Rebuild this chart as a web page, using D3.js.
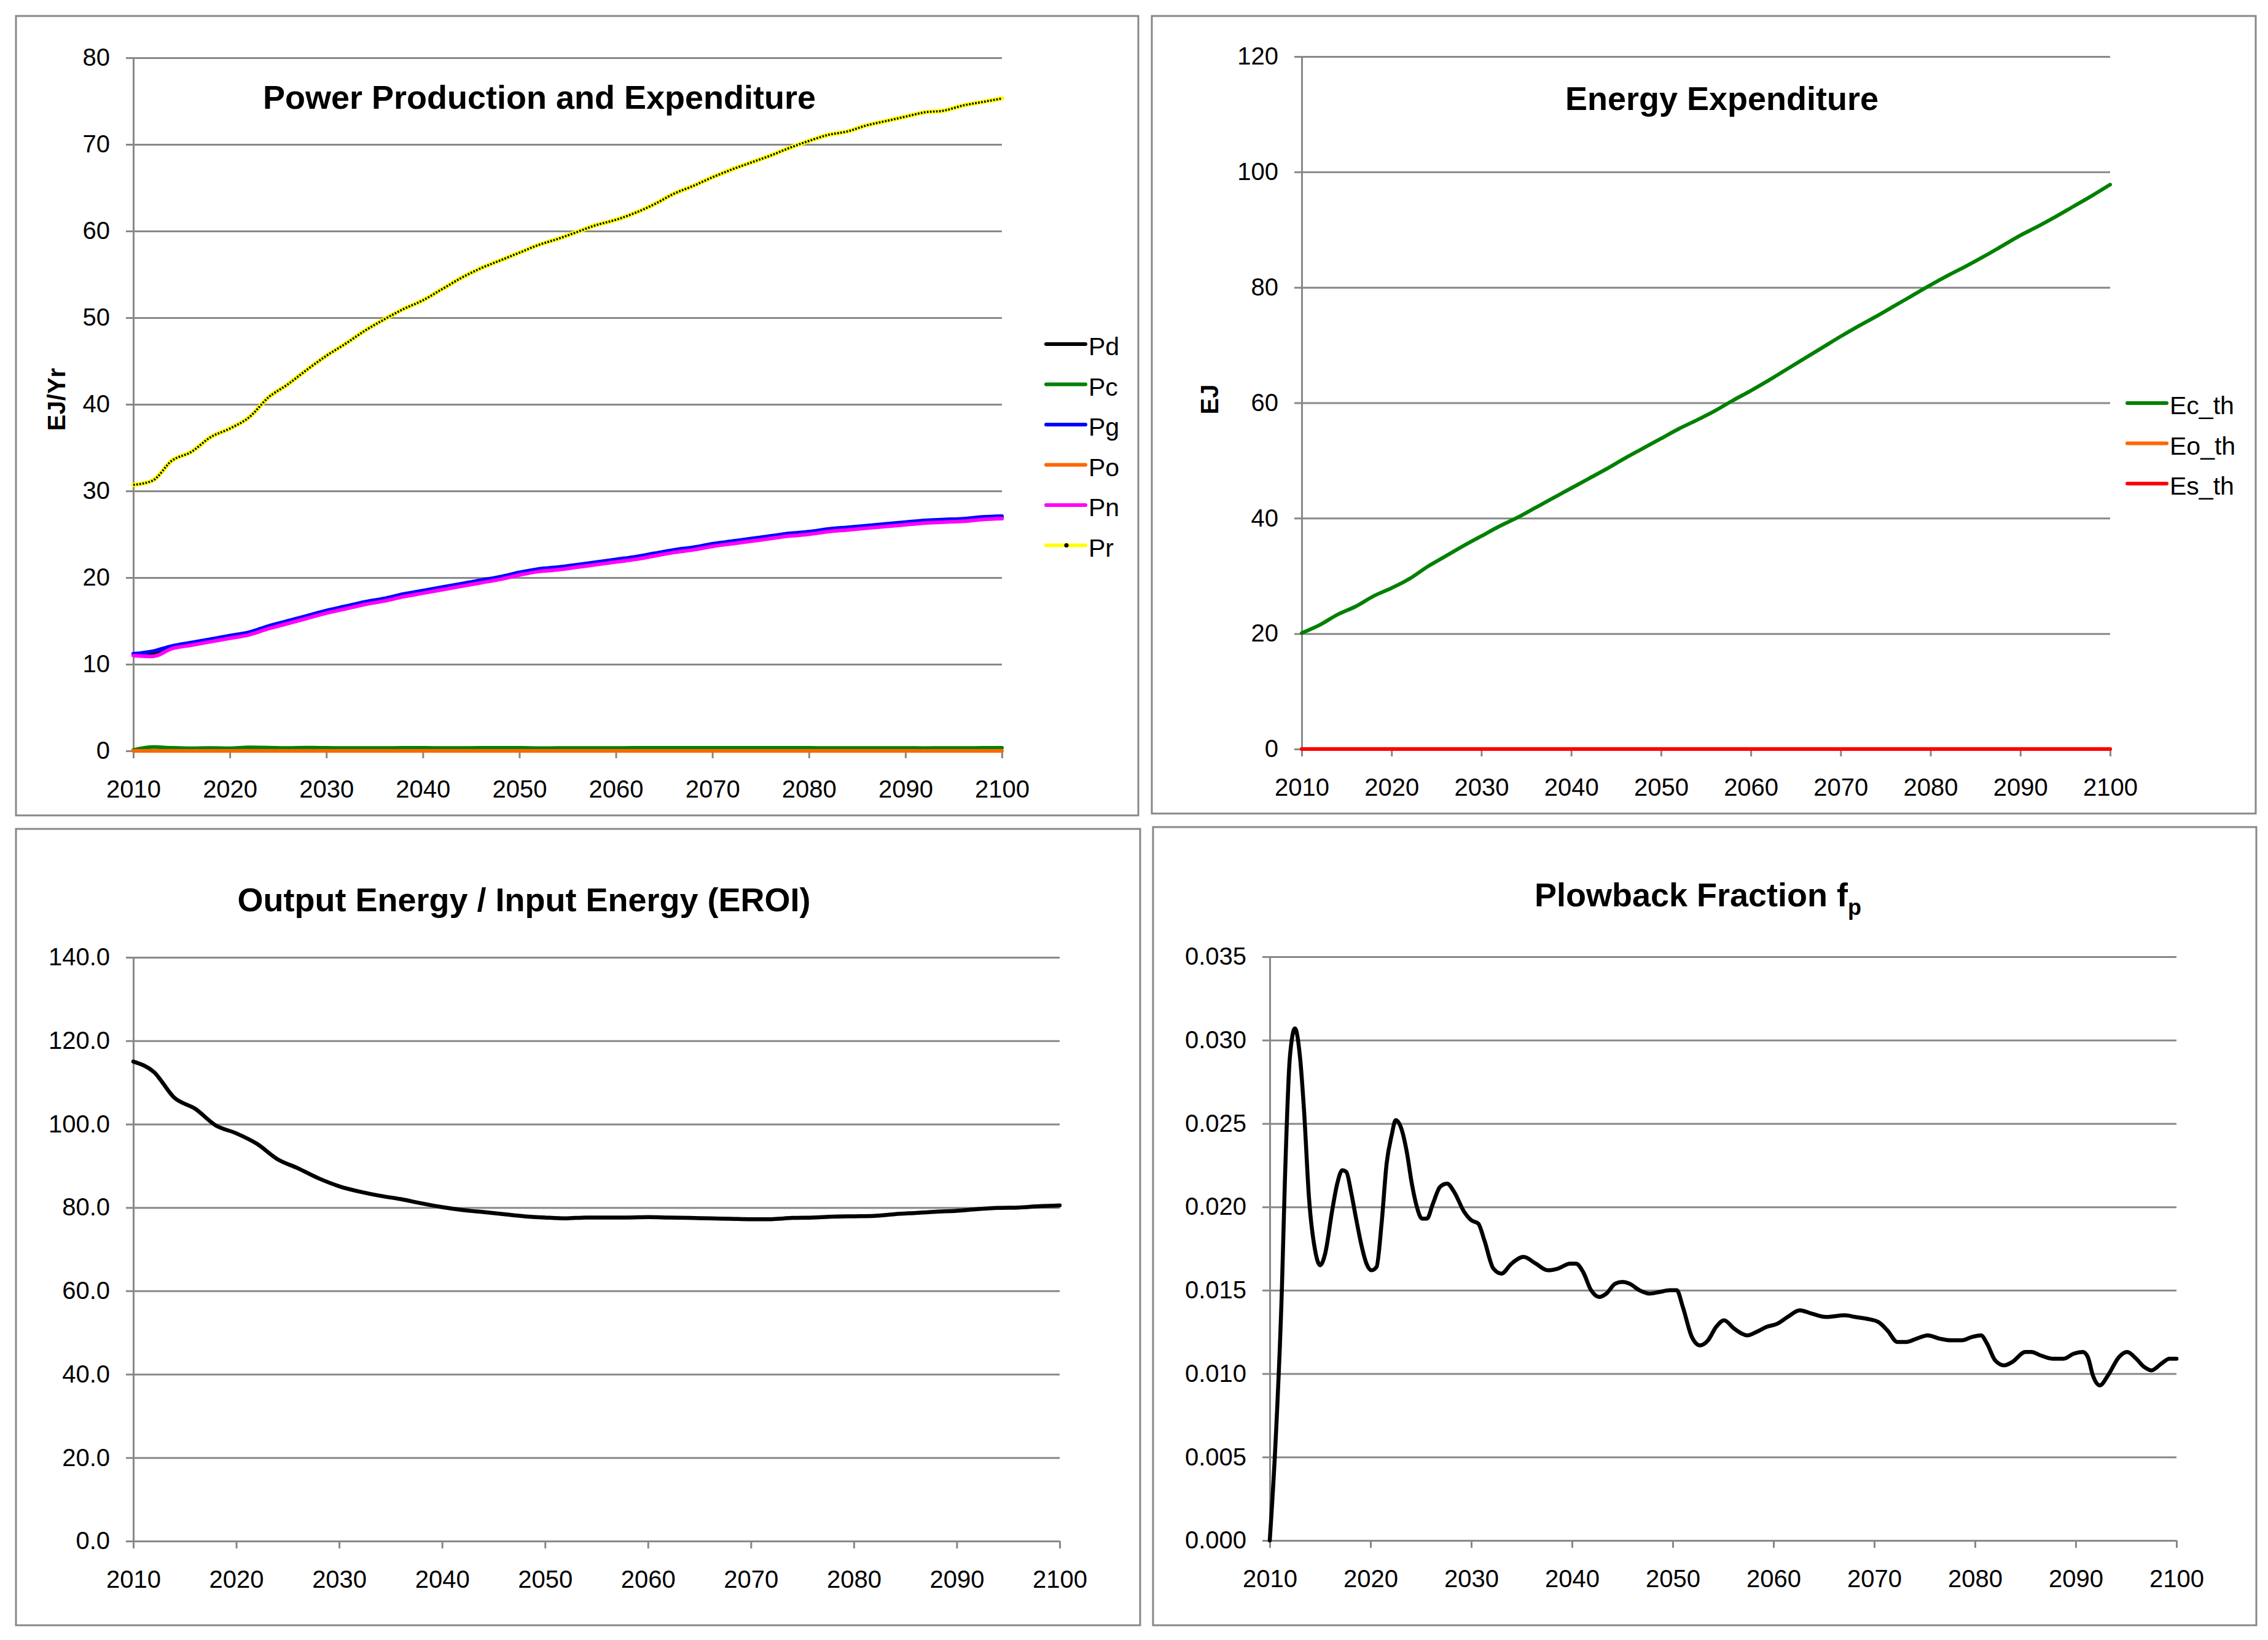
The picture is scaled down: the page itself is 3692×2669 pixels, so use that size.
<!DOCTYPE html>
<html>
<head>
<meta charset="utf-8">
<script src="https://cdn.jsdelivr.net/npm/d3@7"></script>
<style>
  body { margin: 0; background: #fff; }
  text { font-family: "Liberation Sans", Arial, sans-serif; }
</style>
</head>
<body>
<div id="chart"></div>
<script>
/* --- data --- */
const years = [2010,2012,2014,2016,2018,2020,2022,2024,2026,2028,2030,2032,2034,2036,2038,2040,2042,2044,2046,2048,
  2050,2052,2054,2056,2058,2060,2062,2064,2066,2068,2070,2072,2074,2076,2078,2080,2082,2084,2086,2088,2090,2092,2094,2096,2098,2100];

const Pd = [11.1,11.3,11.9,12.3,12.7,13.1,13.5,14.2,14.8,15.4,16.0,16.5,17.0,17.4,17.9,18.3,18.7,19.1,19.5,19.9,
  20.4,20.8,21.0,21.3,21.6,21.9,22.2,22.6,23.0,23.3,23.7,24.0,24.3,24.6,24.9,25.1,25.4,25.6,25.8,26.0,26.2,26.4,26.5,26.6,26.8,26.9];
const Pc = [0.10,0.45,0.35,0.30,0.33,0.30,0.40,0.38,0.34,0.37,0.35,0.33,0.34,0.34,0.35,0.35,0.33,0.34,0.35,0.35,
  0.35,0.32,0.33,0.33,0.33,0.34,0.35,0.36,0.36,0.36,0.36,0.35,0.35,0.35,0.35,0.35,0.33,0.34,0.34,0.34,0.34,0.32,0.34,0.34,0.35,0.35];
const Pg = [11.2,11.5,12.1,12.5,12.9,13.3,13.7,14.4,15.0,15.6,16.2,16.7,17.2,17.6,18.1,18.5,18.9,19.3,19.7,20.1,
  20.6,21.0,21.2,21.5,21.8,22.1,22.4,22.8,23.2,23.5,23.9,24.2,24.5,24.8,25.1,25.3,25.6,25.8,26.0,26.2,26.4,26.6,26.7,26.8,27.0,27.1];
const Po = [0,0,0,0,0,0,0,0,0,0,0,0,0,0,0,0,0,0,0,0,0,0,0,0,0,0,0,0,0,0,0,0,0,0,0,0,0,0,0,0,0,0,0,0,0,0];
const Pn = [11.0,10.9,11.8,12.2,12.6,13.0,13.4,14.1,14.7,15.3,15.9,16.4,16.9,17.3,17.8,18.2,18.6,19.0,19.4,19.8,
  20.3,20.7,20.9,21.2,21.5,21.8,22.1,22.5,22.9,23.2,23.6,23.9,24.2,24.5,24.8,25.0,25.3,25.5,25.7,25.9,26.1,26.3,26.4,26.5,26.7,26.8];
const Pr = [30.7,31.2,33.5,34.5,36.2,37.2,38.5,40.8,42.3,44.0,45.6,47.0,48.5,49.8,51.0,52.0,53.3,54.6,55.7,56.6,
  57.5,58.4,59.1,59.9,60.7,61.3,62.1,63.1,64.3,65.2,66.2,67.1,67.9,68.7,69.6,70.4,71.1,71.5,72.2,72.7,73.2,73.7,73.9,74.5,74.9,75.3];

const EcTh = [20.1,21.5,23.3,24.7,26.5,27.9,29.5,31.6,33.4,35.2,36.9,38.6,40.1,41.8,43.5,45.2,46.9,48.6,50.4,52.1,
  53.8,55.5,57.0,58.6,60.4,62.1,63.9,65.8,67.7,69.6,71.5,73.3,75.0,76.8,78.6,80.4,82.1,83.7,85.4,87.2,89.0,90.6,92.3,94.1,95.9,97.8];
const EoTh = [0,0,0,0,0,0,0,0,0,0,0,0,0,0,0,0,0,0,0,0,0,0,0,0,0,0,0,0,0,0,0,0,0,0,0,0,0,0,0,0,0,0,0,0,0,0];
const EsTh = [0,0,0,0,0,0,0,0,0,0,0,0,0,0,0,0,0,0,0,0,0,0,0,0,0,0,0,0,0,0,0,0,0,0,0,0,0,0,0,0,0,0,0,0,0,0];

const eroi = [115.0,112.5,106.3,103.7,99.7,97.8,95.3,91.6,89.4,87.0,85.1,83.8,82.8,82.0,81.0,80.1,79.4,78.9,78.4,77.9,
  77.6,77.4,77.6,77.6,77.6,77.7,77.6,77.5,77.4,77.3,77.2,77.2,77.5,77.6,77.8,77.9,78.0,78.4,78.7,79.0,79.2,79.6,79.9,80.0,80.3,80.5];

const fpYears = [2010.0,2010.5,2011.2,2011.5,2012.0,2012.5,2013.0,2013.4,2013.9,2014.5,2015.0,2015.5,2016.2,2016.7,2017.2,2017.6,
  2018.1,2018.6,2019.1,2019.6,2020.1,2020.6,2021.1,2021.6,2022.1,2022.5,2023.0,2023.6,2024.1,2024.6,2025.1,2025.6,2026.2,2026.9,
  2027.6,2028.3,2029.3,2030.0,2030.7,2031.3,2032.2,2033.0,2034.0,2035.2,2036.4,2037.6,2038.6,2039.8,2040.4,2041.1,2041.9,2042.7,
  2043.4,2044.3,2045.0,2045.7,2046.7,2047.7,2048.7,2049.7,2050.4,2051.0,2051.9,2052.7,2053.5,2054.3,2055.1,2056.1,2057.4,2058.3,
  2059.3,2060.4,2061.4,2062.6,2063.8,2065.2,2067.1,2068.1,2069.2,2070.4,2071.3,2072.3,2073.2,2074.2,2075.3,2076.5,2077.6,2078.7,
  2079.7,2080.6,2081.2,2082.0,2082.9,2083.7,2085.0,2085.6,2086.5,2087.7,2088.8,2089.8,2090.7,2091.2,2091.7,2092.4,2093.2,2094.3,
  2095.1,2096.0,2096.8,2097.5,2098.5,2099.3,2100.0];
const fpValues = [0.0000,0.0050,0.0150,0.0215,0.0290,0.0307,0.0290,0.0258,0.0205,0.0174,0.0165,0.0172,0.0198,0.0214,0.0222,0.0221,
  0.0208,0.0192,0.0177,0.0166,0.0162,0.0164,0.0190,0.0226,0.0243,0.0252,0.0248,0.0233,0.0214,0.0200,0.0193,0.0193,0.0202,0.0212,
  0.0214,0.0209,0.0197,0.0192,0.0190,0.0180,0.0163,0.0160,0.0166,0.0170,0.0166,0.0162,0.0163,0.0166,0.0166,0.0161,0.0150,0.0146,
  0.0148,0.0154,0.0155,0.0154,0.0150,0.0148,0.0149,0.0150,0.0150,0.0140,0.0122,0.0117,0.0120,0.0128,0.0132,0.0127,0.0123,0.0125,
  0.0128,0.0130,0.0134,0.0138,0.0136,0.0134,0.0135,0.0134,0.0133,0.0131,0.0126,0.0119,0.0119,0.0121,0.0123,0.0121,0.0120,0.0120,
  0.0122,0.0123,0.0118,0.0108,0.0105,0.0107,0.0113,0.0113,0.0111,0.0109,0.0109,0.0112,0.0113,0.0110,0.0099,0.0093,0.0099,0.0110,
  0.0113,0.0109,0.0104,0.0102,0.0106,0.0109,0.0109];

const yearTicks = [2010,2020,2030,2040,2050,2060,2070,2080,2090,2100];
const powerTicks = [0,10,20,30,40,50,60,70,80];
const energyTicks = [0,20,40,60,80,100,120];
const eroiTicks = [0,20,40,60,80,100,120,140];
const fpTicks = [0,0.005,0.010,0.015,0.020,0.025,0.030,0.035];

/* --- drawing --- */
const W = 3692, H = 2669, GREY = "#888888";
const svg = d3.select("#chart").append("svg").attr("width", W).attr("height", H);

const zip = (xs, ys) => xs.map((v, i) => [v, ys[i]]);

function panel(cfg) {
  const [bx0, by0, bx1, by1] = cfg.box, [px0, py0, px1, py1] = cfg.plot;

  svg.append("rect")
    .attr("x", bx0).attr("y", by0).attr("width", bx1 - bx0).attr("height", by1 - by0)
    .attr("fill", "none").attr("stroke", GREY).attr("stroke-width", 3);

  const x = d3.scaleLinear().domain([2010, 2100]).range([px0, px1]);
  const y = d3.scaleLinear().domain(cfg.yDomain).range([py1, py0]);

  // y axis + gridlines
  const ya = svg.append("g").attr("transform", `translate(${px0},0)`)
    .call(d3.axisLeft(y).tickValues(cfg.yTicks).tickFormat(cfg.yFormat)
      .tickSizeInner(-(px1 - px0)).tickSizeOuter(0).tickPadding(38));
  ya.selectAll(".tick line").attr("x1", -12).attr("stroke", GREY).attr("stroke-width", 3);
  ya.select(".domain").attr("stroke", GREY).attr("stroke-width", 3);
  ya.selectAll("text").attr("font-size", 40).attr("font-family", "Liberation Sans, Arial, sans-serif").attr("fill", "#000");

  // x axis
  const xa = svg.append("g").attr("transform", `translate(0,${py1})`)
    .call(d3.axisBottom(x).tickValues(yearTicks).tickFormat(d3.format("d"))
      .tickSizeInner(12).tickSizeOuter(0).tickPadding(36));
  xa.selectAll(".tick line").attr("stroke", GREY).attr("stroke-width", 3);
  xa.select(".domain").attr("stroke", GREY).attr("stroke-width", 3);
  xa.selectAll("text").attr("font-size", 40).attr("font-family", "Liberation Sans, Arial, sans-serif").attr("fill", "#000");

  const line = d3.line().x(d => x(d[0])).y(d => y(d[1])).curve(d3.curveMonotoneX);

  cfg.series.forEach(s => {
    svg.append("path").datum(zip(s.xs, s.ys))
      .attr("d", line).attr("fill", "none")
      .attr("stroke", s.color).attr("stroke-width", s.width || 6)
      .attr("stroke-linejoin", "round").attr("stroke-linecap", "round");
    if (s.dots) svg.append("path").datum(zip(s.xs, s.ys))
      .attr("d", line).attr("fill", "none")
      .attr("stroke", "#000").attr("stroke-width", 3.5).attr("stroke-dasharray", "2.6,2.4");
  });

  // title
  const t = svg.append("text").attr("x", cfg.title.x).attr("y", cfg.title.y)
    .attr("text-anchor", "middle").attr("font-size", 54).attr("font-weight", "bold")
    .text(cfg.title.text);
  if (cfg.title.sub) t.append("tspan").attr("font-size", 36).attr("dy", 14).text(cfg.title.sub);

  if (cfg.yLabel) svg.append("text")
    .attr("transform", `translate(${cfg.yLabel.x},${cfg.yLabel.y}) rotate(-90)`)
    .attr("text-anchor", "middle").attr("font-size", 40).attr("font-weight", "bold")
    .text(cfg.yLabel.text);

  if (cfg.legend) {
    const lg = svg.append("g");
    cfg.series.forEach((s, i) => {
      const ly = cfg.legend.y + i * 65.5;
      lg.append("line").attr("x1", cfg.legend.x).attr("x2", cfg.legend.x + 64)
        .attr("y1", ly).attr("y2", ly).attr("stroke", s.color)
        .attr("stroke-width", 6).attr("stroke-linecap", "round");
      if (s.dots) lg.append("circle").attr("cx", cfg.legend.x + 33).attr("cy", ly).attr("r", 3.5).attr("fill", "#000");
      lg.append("text").attr("x", cfg.legend.x + 69).attr("y", ly + 18)
        .attr("font-size", 41).text(s.name);
    });
  }
}

panel({
  box: [26, 26, 1853, 1327], plot: [217, 94, 1631, 1222],
  yDomain: [0, 80], yTicks: powerTicks, yFormat: d3.format("d"),
  title: { text: "Power Production and Expenditure", x: 878, y: 177 },
  yLabel: { text: "EJ/Yr", x: 106, y: 650 },
  legend: { x: 1703, y: 560 },
  series: [
    { name: "Pd", xs: years, ys: Pd, color: "#000000" },
    { name: "Pc", xs: years, ys: Pc, color: "#008000" },
    { name: "Pg", xs: years, ys: Pg, color: "#0000ff" },
    { name: "Po", xs: years, ys: Po, color: "#ff6600" },
    { name: "Pn", xs: years, ys: Pn, color: "#ff00ff" },
    { name: "Pr", xs: years, ys: Pr, color: "#ffff00", width: 7, dots: true }
  ]
});

panel({
  box: [1875, 26, 3672, 1324], plot: [2119, 92, 3435, 1219],
  yDomain: [0, 120], yTicks: energyTicks, yFormat: d3.format("d"),
  title: { text: "Energy Expenditure", x: 2803, y: 179 },
  yLabel: { text: "EJ", x: 1983, y: 650 },
  legend: { x: 3463, y: 656 },
  series: [
    { name: "Ec_th", xs: years, ys: EcTh, color: "#008000" },
    { name: "Eo_th", xs: years, ys: EoTh, color: "#ff6600" },
    { name: "Es_th", xs: years, ys: EsTh, color: "#ff0000" }
  ]
});

panel({
  box: [26, 1349, 1856, 2645], plot: [217, 1558, 1725, 2508],
  yDomain: [0, 140], yTicks: eroiTicks, yFormat: d3.format(".1f"),
  title: { text: "Output Energy / Input Energy (EROI)", x: 853, y: 1483 },
  series: [{ name: "EROI", xs: years, ys: eroi, color: "#000000", width: 6.5 }]
});

panel({
  box: [1877, 1346, 3673, 2645], plot: [2067, 1557, 3543, 2507],
  yDomain: [0, 0.035], yTicks: fpTicks, yFormat: d3.format(".3f"),
  title: { text: "Plowback Fraction f", sub: "p", x: 2764, y: 1475 },
  series: [{ name: "fp", xs: fpYears, ys: fpValues, color: "#000000", width: 6.5 }]
});
</script>
</body>
</html>
